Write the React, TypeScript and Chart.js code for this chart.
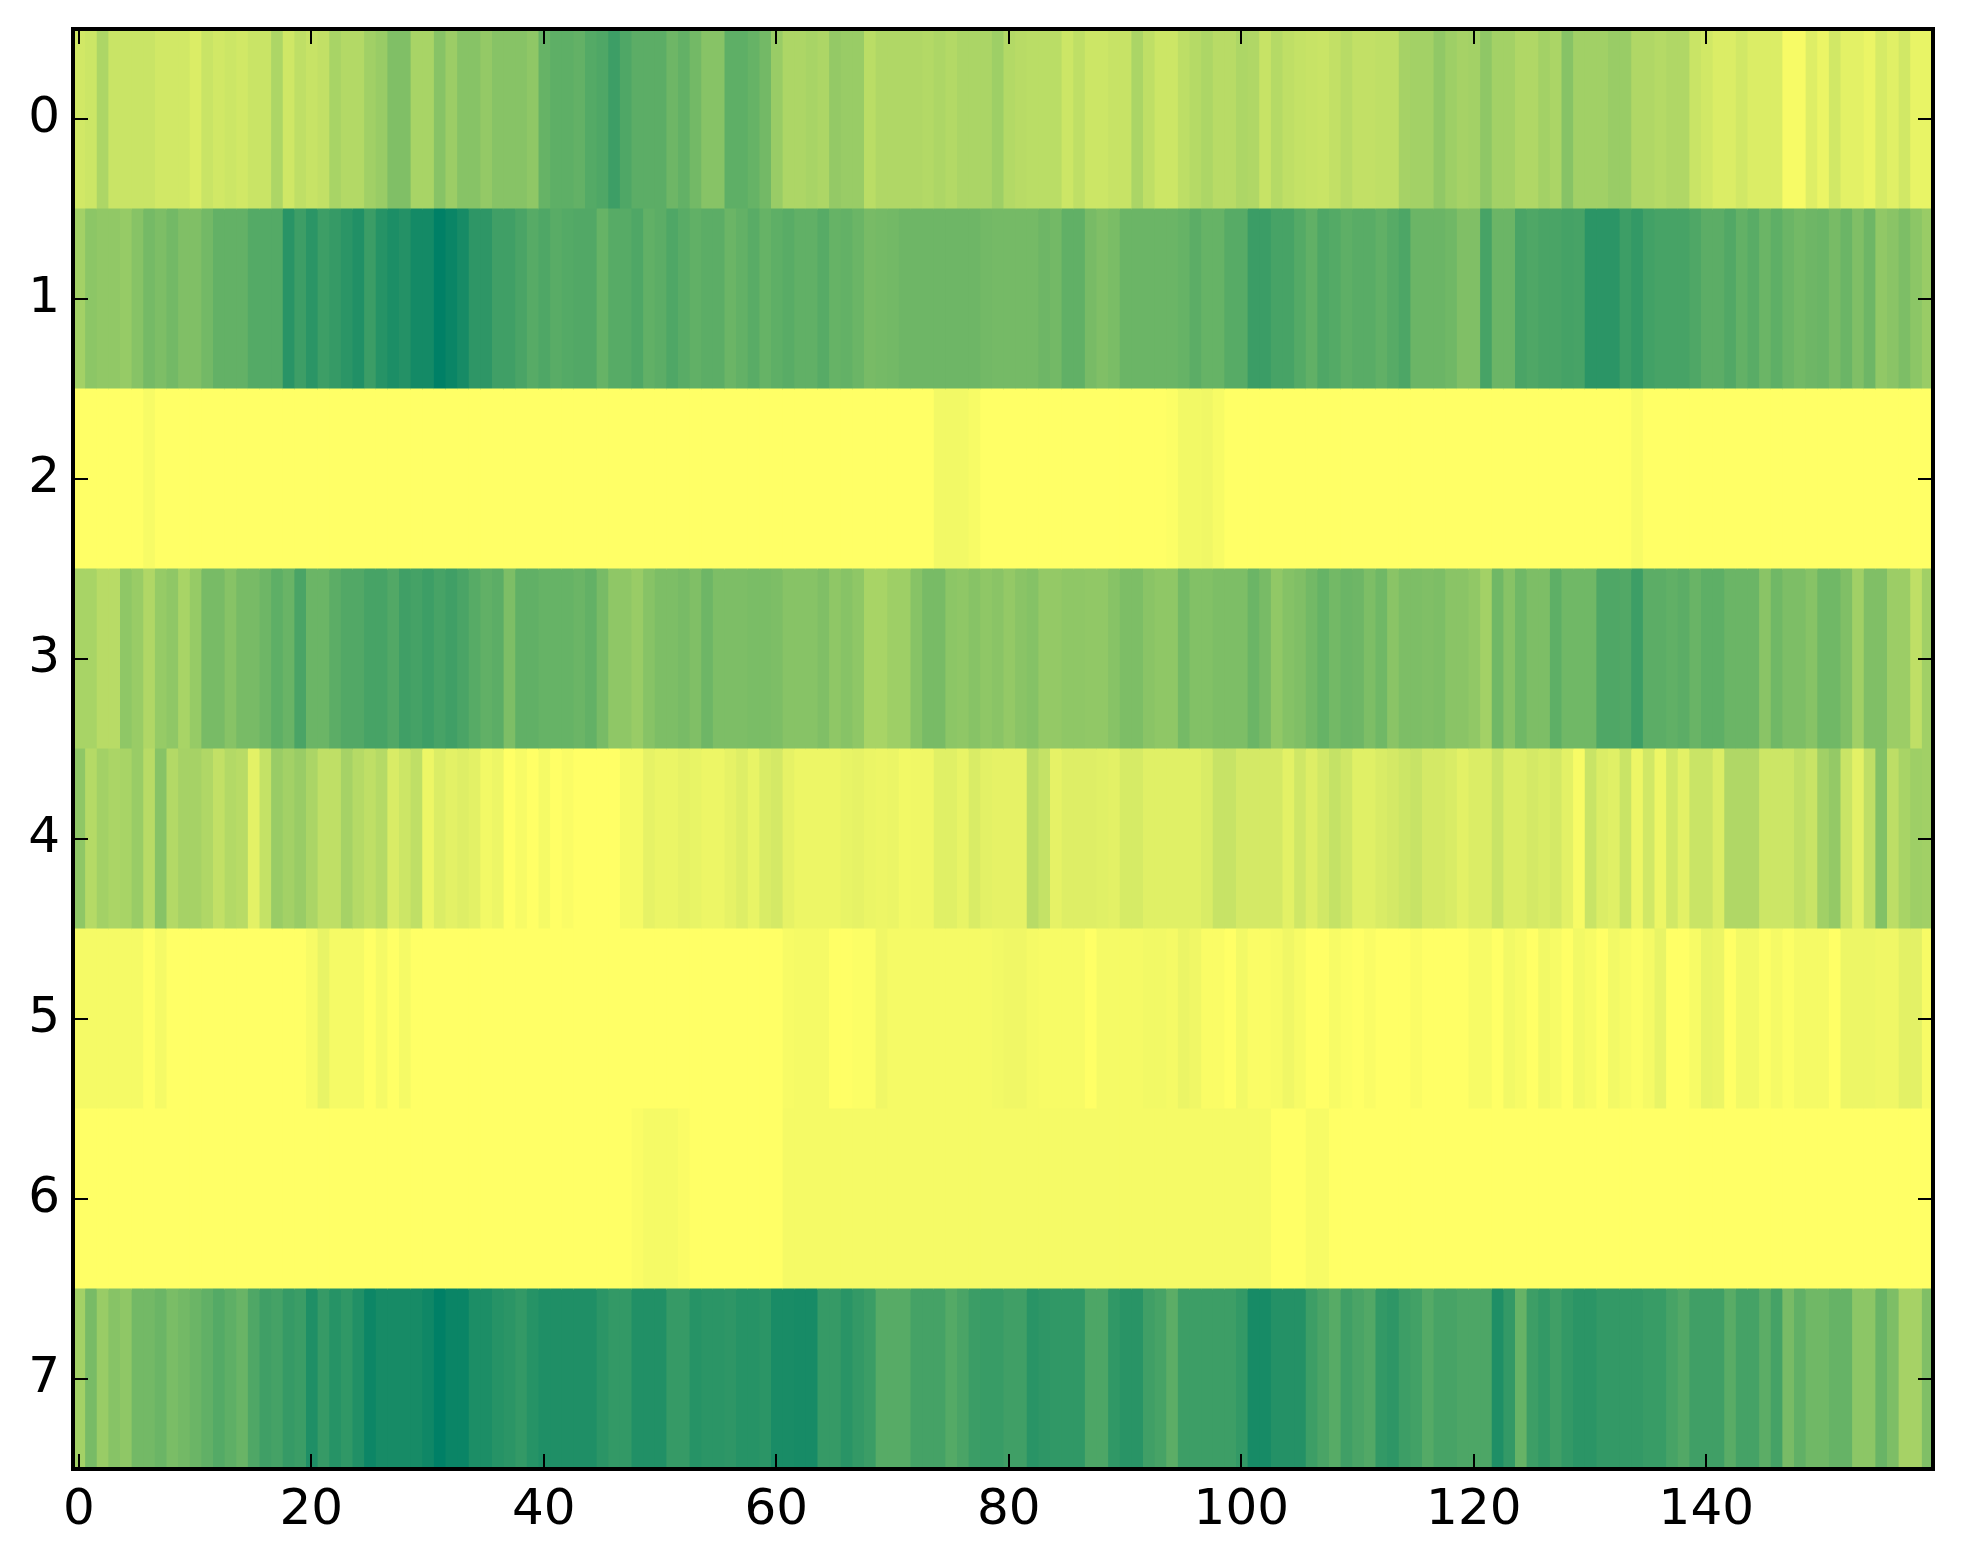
import { useEffect, useRef } from "react";
import { Chart, registerables } from "chart.js";

Chart.register(...registerables);

const rowLabels = ["0", "1", "2", "3", "4", "5", "6", "7"];
const xTickValues = [0, 20, 40, 60, 80, 100, 120, 140];

const row0 = [
  18,20,32,21,21,21,21,18,18,18, 14,21,18,20,18,21,21,32,19,25,
  22,24,34,30,30,37,40,50,50,34, 34,47,39,47,47,42,47,47,47,44,
  60,63,63,61,67,69,76,69,64,64, 64,57,61,55,47,47,63,63,60,55,
  40,32,32,34,32,42,40,40,27,31, 31,31,31,30,32,30,33,33,33,38,
  30,28,27,27,27,20,25,20,20,22, 22,33,25,20,20,26,29,32,28,28,
  32,31,22,29,25,23,22,21,24,28, 24,24,25,25,35,36,36,43,38,35,
  36,44,36,36,31,31,36,33,47,37, 37,37,40,40,31,31,29,31,31,21,
  18,14,14,18,14,14,14,3,3,13, 8,18,11,11,8,16,12,18,9,9,
];
const row1 = [
  36,45,43,43,41,47,54,51,55,50, 50,55,61,61,61,67,67,67,84,76,
  83,76,79,83,87,77,85,89,86,92, 92,100,96,91,82,82,75,75,71,66,
  69,65,67,68,68,60,66,66,69,62, 64,69,65,62,64,64,58,61,65,60,
  63,65,62,62,66,60,61,58,53,54, 55,57,57,57,57,57,57,57,55,54,
  54,54,54,57,55,62,62,53,50,52, 58,58,58,58,58,60,64,60,60,66,
  66,77,77,72,72,67,62,69,67,63, 65,65,62,66,70,58,58,58,56,50,
  50,72,58,58,71,69,71,71,73,72, 83,83,83,76,80,74,72,72,72,69,
  64,64,68,61,65,58,63,58,55,57, 58,53,58,50,57,43,46,51,45,40,
];
const row2 = [
  0,0,0,0,0,0,3,0,0,0, 0,0,0,0,0,0,0,0,0,0,
  0,0,0,0,0,0,0,0,0,0, 0,0,0,0,0,0,0,0,0,0,
  0,0,0,0,0,0,0,0,0,0, 0,0,0,0,0,0,0,0,0,0,
  0,0,0,0,0,0,0,0,0,0, 0,0,0,0,5,5,5,3,0,0,
  0,0,0,0,0,0,0,0,0,0, 0,0,0,0,1,5,5,6,3,0,
  0,0,0,0,0,0,0,0,0,0, 0,0,0,0,0,0,0,0,0,0,
  0,0,0,0,0,0,0,0,0,0, 0,0,0,0,3,0,0,0,0,0,
  0,0,0,0,0,0,0,0,0,0, 0,0,0,0,0,0,0,0,0,0,
];
const row3 = [
  34,34,28,28,44,40,31,41,44,34, 41,53,53,47,53,53,57,63,59,71,
  58,58,64,68,68,72,72,68,75,73, 76,72,75,71,66,62,64,51,62,62,
  60,60,60,58,61,53,44,44,40,47, 51,51,53,50,57,51,51,51,52,52,
  51,47,47,47,50,44,47,44,34,34, 38,38,47,53,53,45,44,47,44,46,
  42,46,48,42,42,44,44,43,43,47, 51,51,46,44,44,54,49,49,51,51,
  51,58,53,43,48,50,55,60,55,58, 57,51,56,46,51,51,50,51,46,46,
  43,36,56,47,56,51,51,63,56,56, 56,69,69,68,76,64,64,62,64,59,
  63,63,58,58,58,46,56,51,51,47, 56,56,50,37,50,50,39,39,25,37,
];
const row4 = [
  44,29,36,33,34,40,28,47,30,35, 35,31,24,30,28,11,23,40,36,40,
  33,25,25,35,29,25,29,15,20,25, 7,14,11,13,11,5,7,0,3,0,
  4,0,2,0,0,0,0,4,4,10, 8,8,10,9,7,7,10,13,9,15,
  17,10,7,7,7,7,9,10,8,7, 8,5,6,6,12,12,9,15,11,10,
  10,10,28,23,10,13,13,13,12,11, 16,16,12,12,12,12,12,15,22,22,
  17,17,17,17,11,19,13,18,23,19, 12,12,15,17,20,22,17,17,15,11,
  14,14,21,14,14,17,15,17,11,3, 21,14,12,21,7,18,7,18,11,21,
  21,14,31,31,31,20,20,20,25,21, 37,42,21,11,25,49,26,34,38,37,
];
const row5 = [
  4,4,4,4,4,4,0,4,0,0, 0,0,0,0,0,0,0,0,0,0,
  3,9,4,4,4,0,4,0,4,0, 0,0,0,0,0,0,0,0,0,0,
  0,0,0,0,0,0,0,0,0,0, 0,0,0,0,0,0,0,0,0,0,
  0,3,4,4,4,0,0,1,1,6, 4,4,4,4,4,4,4,4,4,5,
  6,6,4,3,3,3,3,0,4,4, 4,4,5,5,4,8,6,2,2,0,
  5,2,2,3,6,3,0,0,3,1, 0,2,0,0,0,2,0,0,0,0,
  3,3,0,5,3,0,5,3,0,5, 3,0,5,3,1,4,9,0,0,3,
  9,8,0,5,5,1,4,1,4,4, 4,0,7,7,7,6,6,11,11,3,
];
const row6 = [
  0,0,0,0,0,0,0,0,0,0, 0,0,0,0,0,0,0,0,0,0,
  0,0,0,0,0,0,0,0,0,0, 0,0,0,0,0,0,0,0,0,0,
  0,0,0,0,0,0,0,0,2,4, 4,4,2,0,0,0,0,0,0,0,
  0,4,4,4,4,4,4,4,4,4, 4,4,4,4,4,4,4,4,4,4,
  4,4,4,4,4,4,4,4,4,4, 4,4,4,4,4,4,4,4,4,4,
  4,4,4,0,0,0,3,3,0,0, 0,0,0,0,0,0,0,0,0,0,
  0,0,0,0,0,0,0,0,0,0, 0,0,0,0,0,0,0,0,0,0,
  0,0,0,0,0,0,0,0,0,0, 0,0,0,0,0,0,0,0,0,0,
];
const row7 = [
  36,53,40,47,44,55,55,58,52,55, 58,62,67,63,59,69,75,73,79,77,
  88,79,85,81,87,95,91,91,91,91, 94,100,96,96,89,89,85,83,80,85,
  88,88,88,88,88,83,80,80,87,87, 87,79,79,85,83,83,82,85,85,83,
  90,90,91,91,79,79,84,80,77,66, 66,66,73,73,73,67,71,77,78,78,
  75,75,84,82,81,81,81,70,70,81, 84,84,75,72,64,76,76,76,76,76,
  80,91,91,86,86,86,76,71,66,75, 71,68,80,82,76,74,67,72,72,70,
  70,70,88,80,60,76,80,75,80,83, 83,80,80,80,80,78,78,72,68,75,
  75,75,65,73,73,64,73,53,62,56, 56,60,60,45,45,59,51,35,35,50,
];

const rows = [row0, row1, row2, row3, row4, row5, row6, row7];

// matplotlib "summer_r": 0 → yellow, 100 → teal green
function summerR(percent: number): string {
  const v = percent / 100;
  const r = Math.round(255 * (1 - v));
  const g = Math.round(255 * (1 - v / 2));
  return `rgb(${r},${g},102)`;
}

const spinesAndTicks = {
  id: "spinesAndTicks",
  afterDatasetsDraw(chart: any) {
    const { ctx, chartArea: a, scales } = chart;
    const tickLen = 15;
    ctx.save();
    ctx.strokeStyle = "#000";
    ctx.lineWidth = 2;
    ctx.beginPath();
    scales.x.ticks.forEach((t: any) => {
      const x = Math.round(scales.x.getPixelForValue(t.value));
      ctx.moveTo(x, a.bottom);
      ctx.lineTo(x, a.bottom - tickLen);
      ctx.moveTo(x, a.top);
      ctx.lineTo(x, a.top + tickLen);
    });
    scales.y.ticks.forEach((_: any, i: number) => {
      const y = Math.round(scales.y.getPixelForTick(i));
      ctx.moveTo(a.left, y);
      ctx.lineTo(a.left + tickLen, y);
      ctx.moveTo(a.right, y);
      ctx.lineTo(a.right - tickLen, y);
    });
    ctx.stroke();
    ctx.lineWidth = 4;
    ctx.strokeRect(a.left, a.top, a.right - a.left, a.bottom - a.top);
    ctx.restore();
  },
};

function clearAxisPadding(s: any) {
  s.paddingTop = 0;
  s.paddingBottom = 0;
  s.paddingLeft = 0;
  s.paddingRight = 0;
}

export default function App() {
  const ref = useRef<HTMLCanvasElement>(null);
  useEffect(() => {
    const datasets = row0.map((_, i) => ({
      data: rows.map(() => [i - 0.5, i + 0.5]),
      backgroundColor: rows.map((r) => summerR(r[i])),
      borderWidth: 0,
      inflateAmount: 0.5,
      categoryPercentage: 1,
      barPercentage: 1,
      grouped: false,
    }));
    const font = { family: "'DejaVu Sans'", size: 50 };
    const chart = new Chart(ref.current as HTMLCanvasElement, {
      type: "bar",
      data: { labels: rowLabels, datasets: datasets as any },
      plugins: [spinesAndTicks],
      options: {
        indexAxis: "y",
        responsive: false,
        devicePixelRatio: 1,
        animation: false,
        events: [],
        layout: { autoPadding: false, padding: { top: 29, right: 30, left: 0, bottom: 0 } },
        plugins: { legend: { display: false }, tooltip: { enabled: false }, title: { display: false } },
        scales: {
          x: {
            type: "linear",
            position: "bottom",
            min: -0.5,
            max: 159.5,
            grid: { display: false, drawTicks: false },
            border: { display: false },
            afterBuildTicks: (s: any) => {
              s.ticks = xTickValues.map((value) => ({ value }));
            },
            afterFit: (s: any) => {
              s.height = 95;
              clearAxisPadding(s);
            },
            ticks: { color: "#000", font, padding: 12, autoSkip: false, maxRotation: 0, callback: (v: any) => String(v) },
          },
          y: {
            type: "category",
            position: "left",
            grid: { display: false, drawTicks: false },
            border: { display: false },
            afterFit: (s: any) => {
              s.width = 73;
              clearAxisPadding(s);
            },
            ticks: { color: "#000", font, padding: 13, autoSkip: false },
          },
        },
      } as any,
    });
    return () => chart.destroy();
  }, []);
  return (
    <div style={{ position: "absolute", left: 0, top: 0, width: 1963, height: 1564, background: "#fff" }}>
      <canvas ref={ref} width={1963} height={1564} style={{ display: "block" }} />
    </div>
  );
}
